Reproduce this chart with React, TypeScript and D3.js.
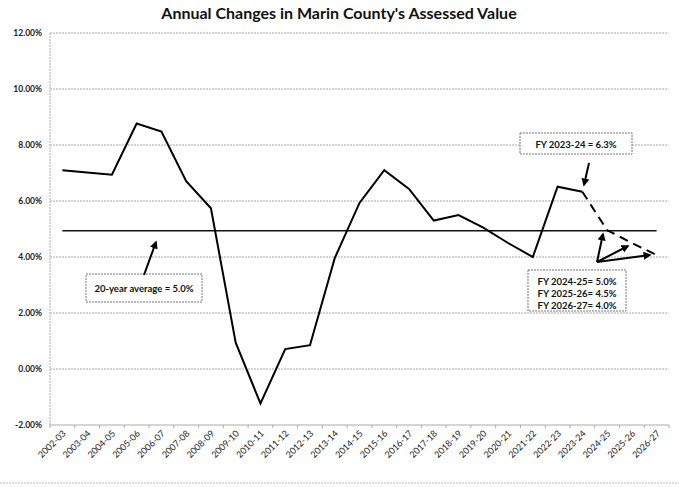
import React from "react";
import * as d3 from "d3";

const categories = ["2002-03","2003-04","2004-05","2005-06","2006-07","2007-08","2008-09","2009-10","2010-11","2011-12","2012-13","2013-14","2014-15","2015-16","2016-17","2017-18","2018-19","2019-20","2020-21","2021-22","2022-23","2023-24","2024-25","2025-26","2026-27"];
const actualValues = [7.1,7.02,6.94,8.77,8.48,6.71,5.74,0.94,-1.23,0.71,0.85,3.96,5.93,7.1,6.43,5.3,5.5,5.05,4.5,4.0,6.51,6.33];
const projectedValues = [6.33,4.96,4.5,4.07];
const averageValue = 4.94;
const yTicks = [-2,0,2,4,6,8,10,12];
const title = "Annual Changes in Marin County's Assessed Value";

const W = 679, H = 487;
const M = { left: 50, right: 669, top: 33, bottom: 425 };
const FONT = "Lato, 'Open Sans', sans-serif";

export default function App() {
  const x = d3.scaleBand<string>().domain(categories).range([M.left, M.right]);
  const y = d3.scaleLinear().domain([-2, 12]).range([M.bottom, M.top]);
  const cx = (c: string) => (x(c) as number) + x.bandwidth() / 2;
  const line = d3.line<[string, number]>().x(d => cx(d[0])).y(d => y(d[1]));
  const actual: [string, number][] = actualValues.map((v, i) => [categories[i], v]);
  const proj: [string, number][] = projectedValues.map((v, i) => [categories[21 + i], v]);
  const avgY = y(averageValue);

  const arrow = (x1: number, y1: number, x2: number, y2: number, key: string) => (
    <line key={key} x1={x1} y1={y1} x2={x2} y2={y2} stroke="#000" strokeWidth={2} markerEnd="url(#ah)" />
  );

  return (
    <svg width={W} height={H} style={{ position: "absolute", left: 0, top: 0, background: "#fff" }} fontFamily={FONT}>
      <defs>
        <marker id="ah" viewBox="0 0 10 10" refX="8" refY="5" markerWidth="4" markerHeight="4" orient="auto">
          <path d="M0,0 L10,5 L0,10 z" fill="#000" />
        </marker>
      </defs>
      <rect x={0} y={0} width={W} height={H} fill="#fff" />
      <text x={339} y={19} textAnchor="middle" fontSize={16} fontWeight="bold" fill="#111">{title}</text>
      {yTicks.map(t => (
        <g key={t}>
          <line x1={M.left} x2={M.right} y1={y(t)} y2={y(t)} stroke="#aaa" strokeWidth={1} strokeDasharray={t === -2 ? "none" : "2,1"} />
          <text x={42} y={y(t) + 3} textAnchor="end" fontSize={8.5} fontWeight="bold" fill="#222">{t.toFixed(2)}%</text>
        </g>
      ))}
      <line x1={M.left} x2={M.left} y1={M.top} y2={M.bottom} stroke="#aaa" strokeDasharray="2,1" />
      {categories.map((c, i) => (
        <g key={c}>
          <line x1={(x(c) as number)} x2={(x(c) as number)} y1={M.bottom} y2={M.bottom + 3} stroke="#aaa" />
          <text transform={`translate(${cx(c) + 4},${M.bottom + 9}) rotate(-45)`} textAnchor="end" fontSize={9} fill="#222">{c}</text>
        </g>
      ))}
      <line x1={M.right} x2={M.right} y1={M.bottom} y2={M.bottom + 3} stroke="#aaa" />
      <line x1={cx(categories[0])} x2={cx(categories[24])} y1={avgY} y2={avgY} stroke="#111" strokeWidth={1.6} />
      <path d={line(actual) as string} fill="none" stroke="#000" strokeWidth={2} strokeLinejoin="miter" />
      <path d={line(proj) as string} fill="none" stroke="#000" strokeWidth={2} strokeDasharray="9,6" />

      <rect x={520} y={133} width={112} height={21} fill="#fff" stroke="#777" strokeDasharray="2,1" />
      <text x={576} y={147.5} textAnchor="middle" fontSize={9.5} fontWeight="bold" fill="#111">FY 2023-24 = 6.3%</text>
      {arrow(589, 163, 584, 185, "a1")}

      <rect x={86} y={274} width={116} height={28} fill="#fff" stroke="#777" strokeDasharray="2,1" />
      <text x={144} y={291.5} textAnchor="middle" fontSize={9.5} fontWeight="bold" fill="#111">20-year average = 5.0%</text>
      {arrow(144, 275, 156, 242, "a2")}

      <rect x={528} y={270} width={98} height={41} fill="#fff" stroke="#777" strokeDasharray="2,1" />
      <text x={577} y={285} textAnchor="middle" fontSize={9.5} fontWeight="bold" fill="#111">FY 2024-25= 5.0%</text>
      <text x={577} y={297} textAnchor="middle" fontSize={9.5} fontWeight="bold" fill="#111">FY  2025-26= 4.5%</text>
      <text x={577} y={309} textAnchor="middle" fontSize={9.5} fontWeight="bold" fill="#111">FY 2026-27= 4.0%</text>
      {arrow(597, 262, 603, 234, "a3")}
      {arrow(597, 262, 628, 246, "a4")}
      {arrow(597, 262, 650, 255, "a5")}

      <line x1={0} x2={W} y1={483} y2={483} stroke="#bbb" strokeDasharray="2,1" />
    </svg>
  );
}
